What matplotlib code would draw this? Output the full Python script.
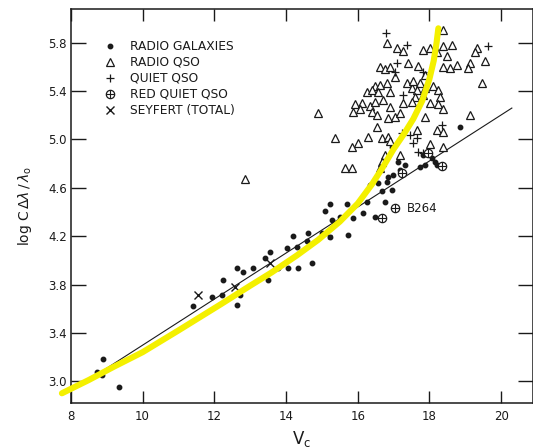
"""
Hubble diagram: log C dlambda/lambda0 against Vc (redrawn scan)
"""
import matplotlib
matplotlib.use("Agg")
import matplotlib.pyplot as plt

# radio galaxies (filled dots)
gal_v = [8.73, 8.89, 8.86, 9.34, 11.40, 11.93, 12.21, 12.24, 12.63, 12.80,
         13.08, 13.41, 13.50, 12.71, 12.63, 13.55, 13.77, 14.05, 14.33, 14.72,
         14.03, 14.30, 14.58, 14.19, 14.61, 15.00, 15.22, 15.73, 15.28, 15.09,
         15.22, 15.70, 15.50, 15.87, 16.15, 16.26, 16.48, 16.67, 16.76, 16.95,
         16.56, 16.81, 16.84, 16.98, 17.18, 17.12, 17.32, 16.95, 17.73, 17.87,
         18.21, 17.82, 18.07, 18.15, 18.85, 16.34]
gal_l = [3.08, 3.18, 3.05, 2.95, 3.62, 3.70, 3.71, 3.84, 3.94, 3.90,
         3.94, 4.02, 3.84, 3.71, 3.63, 4.07, 3.94, 3.94, 3.94, 3.98,
         4.10, 4.11, 4.16, 4.20, 4.23, 4.23, 4.19, 4.21, 4.33, 4.41,
         4.47, 4.47, 4.36, 4.35, 4.39, 4.48, 4.36, 4.57, 4.48, 4.58,
         4.64, 4.65, 4.69, 4.71, 4.75, 4.81, 4.79, 4.94, 4.77, 4.79,
         4.79, 4.87, 4.85, 4.81, 5.10, 4.62]

# radio QSO (open triangles)
rqso_v = [12.85, 14.89, 18.38, 16.81, 17.09, 17.26, 17.82, 18.01, 18.21, 18.38,
          18.63, 18.49, 19.32, 19.27, 19.55, 19.13, 19.07, 18.77, 18.57, 18.38,
          19.46, 16.62, 16.76, 16.90, 17.40, 17.04, 16.48, 16.62, 16.81, 16.26,
          16.40, 16.56, 16.90, 17.37, 17.51, 17.54, 17.73, 17.65, 17.87, 17.60,
          17.82, 18.10, 18.24, 18.29, 18.01, 18.24, 15.92, 16.12, 16.34, 16.48,
          16.70, 16.90, 17.26, 17.51, 15.87, 16.06, 16.40, 16.54, 16.84, 17.04,
          17.18, 17.87, 18.38, 19.13, 16.54, 17.65, 18.21, 18.38, 15.36, 16.28,
          16.67, 16.84, 16.90, 15.84, 16.01, 18.01, 18.38, 16.76, 17.18, 16.67,
          16.62, 15.64, 15.84, 17.68, 17.87]
rqso_l = [4.67, 5.22, 5.91, 5.80, 5.76, 5.73, 5.74, 5.76, 5.72, 5.77,
          5.78, 5.69, 5.76, 5.72, 5.65, 5.63, 5.59, 5.62, 5.59, 5.60,
          5.47, 5.60, 5.58, 5.60, 5.63, 5.52, 5.44, 5.45, 5.47, 5.39,
          5.41, 5.39, 5.39, 5.47, 5.43, 5.48, 5.47, 5.41, 5.43, 5.35,
          5.37, 5.44, 5.41, 5.35, 5.30, 5.29, 5.29, 5.30, 5.28, 5.31,
          5.33, 5.27, 5.30, 5.31, 5.23, 5.25, 5.23, 5.20, 5.18, 5.19,
          5.22, 5.19, 5.25, 5.20, 5.10, 5.08, 5.08, 5.06, 5.01, 5.02,
          5.01, 5.02, 4.99, 4.94, 4.97, 4.96, 4.94, 4.87, 4.87, 4.81,
          4.76, 4.76, 4.76, 5.61, 5.53]

# quiet QSO (plus)
qqso_v = [16.79, 17.37, 17.09, 17.04, 17.82, 19.63, 17.26, 18.35, 17.23, 17.46,
          17.65, 17.54, 17.68, 17.82, 15.17]
qqso_l = [5.88, 5.78, 5.63, 5.56, 5.56, 5.77, 5.37, 5.12, 5.05, 5.04,
          5.01, 4.97, 4.90, 4.89, 4.21]

# red quiet QSO (circled plus)
red_v = [17.23, 17.96, 18.35, 17.04, 16.67]
red_l = [4.72, 4.89, 4.78, 4.43, 4.35]

# Seyfert, total (crosses)
sey_v = [11.54, 13.55, 12.57]
sey_l = [3.71, 3.98, 3.78]

# thin straight relation
line_v = [8.33, 20.3]
line_l = [2.98, 5.26]

# thick yellow curve drawn over the figure
curve_v = [7.75, 8.5, 9.2, 10.0, 11.0, 12.2, 13.0, 13.6, 14.3, 14.9,
           15.5, 16.0, 16.4, 16.7, 17.0, 17.3, 17.55, 17.8, 18.0, 18.12,
           18.2, 18.25]
curve_l = [2.90, 3.01, 3.12, 3.24, 3.42, 3.64, 3.79, 3.90, 4.04, 4.17,
           4.32, 4.47, 4.63, 4.77, 4.92, 5.05, 5.17, 5.32, 5.50, 5.65,
           5.80, 5.92]

x_ticks = [8, 10, 12, 14, 16, 18, 20]
y_ticks = [3.0, 3.4, 3.8, 4.2, 4.6, 5.0, 5.4, 5.8]

legend_rows = ["RADIO GALAXIES", "RADIO QSO", "QUIET QSO",
               "RED QUIET QSO", "SEYFERT (TOTAL)"]


def plot():
    """draw everything and save out.png"""
    fig = plt.figure(figsize=(5.33, 4.48), dpi=100)
    ax = fig.add_axes([0.133, 0.100, 0.867, 0.880])
    ax.set_xlim(8, 20.89)
    ax.set_ylim(2.818, 6.08)

    ink = "#1a1a1a"
    ax.plot(line_v, line_l, color=ink, lw=0.8, zorder=2)
    ax.plot(gal_v, gal_l, "o", ms=3.2, color=ink, mec=ink, zorder=3)
    ax.plot(rqso_v, rqso_l, "^", ms=5.2, mfc="white", mec=ink, mew=0.9,
            zorder=3)
    ax.plot(qqso_v, qqso_l, "+", ms=6, color=ink, mew=0.9, zorder=3)
    ax.plot(red_v, red_l, "o", ms=6, mfc="white", mec=ink, mew=0.9, zorder=3)
    ax.plot(red_v, red_l, "+", ms=6, color=ink, mew=0.8, zorder=3)
    ax.plot(sey_v, sey_l, "x", ms=6, color=ink, mew=1.0, zorder=3)
    ax.text(17.37, 4.43, "B264", fontsize=8.5, color=ink,
            ha="left", va="center")

    ax.plot(curve_v, curve_l, color="#f4f000", lw=4.4,
            solid_capstyle="round", solid_joinstyle="round",
            zorder=5, clip_on=False)

    # legend written as in the original figure
    styles = [
        dict(marker="o", ms=3.2, color=ink),
        dict(marker="^", ms=5.2, mfc="white", mec=ink, mew=0.9),
        dict(marker="+", ms=6, color=ink, mew=0.9),
        dict(marker="o", ms=6, mfc="white", mec=ink, mew=0.9),
        dict(marker="x", ms=6, color=ink, mew=1.0),
    ]
    for i, (label, style) in enumerate(zip(legend_rows, styles)):
        yy = 0.905 - i * 0.0405
        ax.plot([0.085], [yy], linestyle="none", transform=ax.transAxes,
                **style)
        if i == 3:
            ax.plot([0.085], [yy], "+", ms=6, color=ink, mew=0.8,
                    transform=ax.transAxes)
        ax.text(0.128, yy, label, transform=ax.transAxes, fontsize=8.8,
                color=ink, ha="left", va="center")

    ax.set_xticks(x_ticks)
    ax.set_xticklabels([str(v) for v in x_ticks])
    ax.set_yticks(y_ticks)
    ax.set_yticklabels([f"{v:.1f}" for v in y_ticks])
    ax.tick_params(axis="x", direction="in", length=8.5, width=1.0,
                   top=True, labelsize=8.5, pad=5, colors=ink)
    ax.tick_params(axis="y", direction="in", length=11, width=1.0,
                   right=True, labelsize=8.5, pad=3, colors=ink)
    for spine in ax.spines.values():
        spine.set_linewidth(1.1)
        spine.set_color(ink)

    ax.set_xlabel(r"V$_{\mathrm{c}}$", fontsize=12, color=ink, labelpad=4)
    ax.set_ylabel(r"log C$\,\Delta\lambda\,/\,\lambda_{\mathrm{o}}$",
                  fontsize=10, color=ink, labelpad=10)

    fig.savefig("out.png", dpi=100)


if __name__ == '__main__':
    plot()
